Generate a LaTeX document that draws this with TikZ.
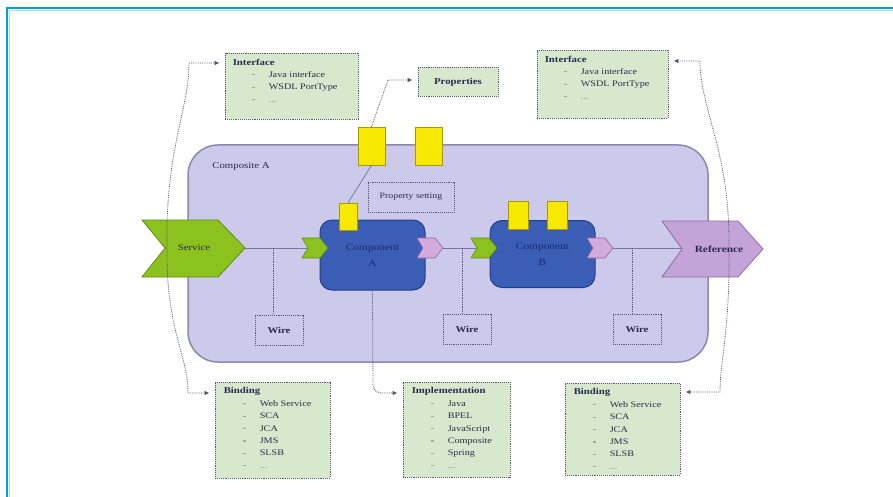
\documentclass[tikz,border=0pt]{standalone}
\usepackage{fontspec}
\setmainfont{Liberation Serif}[FakeStretch=1.2]
\usetikzlibrary{arrows.meta}
\definecolor{framecol}{HTML}{00A0C8}
\definecolor{compfill}{HTML}{CCC9EA}
\definecolor{compdraw}{HTML}{8C89B0}
\definecolor{svcgreen}{HTML}{8CC21E}
\definecolor{svcdraw}{HTML}{5E8A14}
\definecolor{refpurple}{HTML}{C4A3D8}
\definecolor{refdraw}{HTML}{8E6AA8}
\definecolor{pinkchev}{HTML}{D4AADC}
\definecolor{compblue}{HTML}{3A5DB6}
\definecolor{compbluedraw}{HTML}{24408A}
\definecolor{comptext}{HTML}{1C2B6A}
\definecolor{propyellow}{HTML}{F7E800}
\definecolor{propdraw}{HTML}{A89A00}
\definecolor{boxgreen}{HTML}{D7E9CC}
\definecolor{ink}{HTML}{2A2A50}
\definecolor{lineblue}{HTML}{7A78A8}
\newcommand\itm[1]{\hspace*{19pt}\textcolor{gray!70}{\rule[2pt]{3pt}{1.2pt}}\hspace{14pt}#1}
\tikzset{
  composite/.style={draw=compdraw, line width=1.5pt, fill=compfill, rounded corners=30pt, minimum width=520pt, minimum height=217pt},
  compbox/.style={draw=compbluedraw, line width=1pt, fill=compblue, rounded corners=12pt, text=comptext, align=center, font=\fontsize{9.5}{16}\selectfont},
  yprop/.style={draw=propdraw, line width=0.6pt, fill=propyellow, inner sep=0pt},
  infobox/.style={draw=ink!80, densely dotted, line width=0.9pt, fill=boxgreen, inner sep=0pt},
  listtext/.style={anchor=north west, align=left, inner sep=2pt, font=\fontsize{8.5}{12.4}\selectfont},
  wirebox/.style={draw=ink!80, densely dotted, line width=0.9pt, minimum width=48pt, minimum height=30pt, font=\fontsize{9}{11}\selectfont\bfseries},
  wireline/.style={draw=lineblue, line width=0.8pt},
  wiredrop/.style={draw=ink!80, densely dotted, line width=0.8pt},
  conn/.style={draw=ink!80, densely dotted, line width=0.8pt, -{Latex[length=5pt,width=4.5pt]}, shorten >=5pt},
  chev/.pic={\draw[pic actions] (-13,-10) -- (5,-10) -- (13,0) -- (5,10) -- (-13,10) -- (-7,0) -- cycle;}
}
\begin{document}
\begin{tikzpicture}[x=1pt,y=-1pt, font=\fontsize{9}{11}\selectfont, text=ink]
\useasboundingbox (0,0) rectangle (893,497);
\fill[white] (0,0) rectangle (893,497);
% frame
\draw[framecol!35, line width=1pt] (9.5,497) -- (9.5,10.5) -- (893,10.5);
\draw[framecol, line width=2.5pt] (7,497) -- (7,8) -- (893,8);

% composite
\node[composite] (comp) at (448,253.5) {};
\node (compLbl) at (241,166) {Composite A};

% coordinates on the wire line
\coordinate (svcTip) at (245,248);
\coordinate (aInN) at (308,248);
\coordinate (aOutT) at (443,248);
\coordinate (bInN) at (476,248);
\coordinate (bOutT) at (613,248);
\coordinate (refN) at (682,248);
\coordinate (d1) at (273,248);
\coordinate (d2) at (462,248);
\coordinate (d3) at (632,248);

% wires
\draw[wireline] (svcTip) -- (aInN);
\draw[wireline] (aOutT) -- (bInN);
\draw[wireline] (bOutT) -- (refN);

% wire boxes
\node[wirebox] (w1) at (279,330) {Wire};
\node[wirebox] (w2) at (467,329) {Wire};
\node[wirebox] (w3) at (637,329) {Wire};
\draw[wiredrop] (d1) -- (w1.north -| d1);
\draw[wiredrop] (d2) -- (w2.north -| d2);
\draw[wiredrop] (d3) -- (w3.north -| d3);

% property setting
\node[draw=ink!80, densely dotted, line width=0.9pt, minimum width=86pt, minimum height=30pt, font=\fontsize{8.2}{10}\selectfont] (propset) at (411,197) {Property setting};

% components
\node[compbox, minimum width=105pt, minimum height=70pt] (compA) at (372.5,255) {Component\\A};
\node[compbox, minimum width=105pt, minimum height=67pt] (compB) at (542.5,254) {Component\\B};

% small chevrons
\pic[fill=svcgreen, draw=svcdraw, line width=0.6pt] at (315,248) {chev};
\pic[fill=pinkchev, draw=refdraw, line width=0.6pt] at (430,248) {chev};
\pic[fill=svcgreen, draw=svcdraw, line width=0.6pt] at (484,248) {chev};
\pic[fill=pinkchev, draw=refdraw, line width=0.6pt] at (600,248) {chev};

% yellow properties
\node[yprop, minimum width=27pt, minimum height=38pt] (yp1) at (371.5,146) {};
\node[yprop, minimum width=27pt, minimum height=38pt] (yp2) at (428.5,146) {};
\node[yprop, minimum width=18pt, minimum height=27pt] (ypA) at (348,216.5) {};
\node[yprop, minimum width=20pt, minimum height=28pt] (ypB1) at (518.5,215.5) {};
\node[yprop, minimum width=20pt, minimum height=28pt] (ypB2) at (557,215.5) {};
\draw[lineblue, line width=0.8pt] (ypA.north) -- (yp1.south);

% service and reference chevrons
\draw[fill=svcgreen, draw=svcdraw, line width=0.8pt] (142,220) -- (218,220) -- (245,248) -- (218,277) -- (142,277) -- (165,248) -- cycle;
\node (service) at (194,248) {Service};
\draw[fill=refpurple, draw=refdraw, line width=0.8pt] (662,221) -- (738,221) -- (763,249) -- (738,277) -- (662,277) -- (682,249) -- cycle;
\node[font=\fontsize{9.5}{11}\selectfont\bfseries] (reference) at (719,249) {Reference};

% info boxes
\node[infobox, minimum width=133pt, minimum height=66pt] (ifL) at (291.5,86) {};
\node[listtext, xshift=6pt, yshift=-4pt] (ifLt) at (ifL.north west) {\textbf{\fontsize{9}{12}\selectfont Interface}\\\itm{Java interface}\\\itm{WSDL PortType}\\\itm{\textcolor{gray}{...}}};
\node[infobox, minimum width=80pt, minimum height=29pt, font=\fontsize{9}{11}\selectfont\bfseries] (props) at (458,82) {Properties};
\node[infobox, minimum width=131pt, minimum height=68pt] (ifR) at (602.5,84) {};
\node[listtext, xshift=6pt, yshift=-4pt] (ifRt) at (ifR.north west) {\textbf{\fontsize{9}{12}\selectfont Interface}\\\itm{Java interface}\\\itm{WSDL PortType}\\\itm{\textcolor{gray}{...}}};
\node[infobox, minimum width=115pt, minimum height=96pt] (bindL) at (272.5,430) {};
\node[listtext, xshift=7pt, yshift=-4pt] (bindLt) at (bindL.north west) {\textbf{\fontsize{9}{12}\selectfont Binding}\\\itm{Web Service}\\\itm{SCA}\\\itm{JCA}\\\itm{JMS}\\\itm{SLSB}\\\itm{\textcolor{gray}{...}}};
\node[infobox, minimum width=107pt, minimum height=95pt] (impl) at (456.5,429.5) {};
\node[listtext, xshift=7pt, yshift=-4pt] (implt) at (impl.north west) {\textbf{\fontsize{9}{12}\selectfont Implementation}\\\itm{Java}\\\itm{BPEL}\\\itm{JavaScript}\\\itm{Composite}\\\itm{Spring}\\\itm{\textcolor{gray}{...}}};
\node[infobox, minimum width=115pt, minimum height=92pt] (bindR) at (622.5,429) {};
\node[listtext, xshift=7pt, yshift=-4pt] (bindRt) at (bindR.north west) {\textbf{\fontsize{9}{12}\selectfont Binding}\\\itm{Web Service}\\\itm{SCA}\\\itm{JCA}\\\itm{JMS}\\\itm{SLSB}\\\itm{\textcolor{gray}{...}}};

% connectors
\coordinate (svcPt) at (167,248);
\coordinate (refPt) at (729,248);
\coordinate (kIfL) at (189,63);
\coordinate (kBindL) at (188,393);
\coordinate (kIfR) at (700,61);
\coordinate (kBindR) at (720,392);
\coordinate (kProp) at (388,80);
\coordinate (kImpl) at (373,393);
\draw[conn] (svcPt) .. controls (165,150) and (189,110) .. (kIfL) -- (ifL.west |- kIfL);
\draw[conn] (svcPt) .. controls (166,330) and (188,355) .. (kBindL) -- (bindL.west |- kBindL);
\draw[conn] (refPt) .. controls (730,150) and (700,110) .. (kIfR) -- (ifR.east |- kIfR);
\draw[conn] (refPt) .. controls (730,330) and (720,360) .. (kBindR) -- (bindR.east |- kBindR);
\draw[conn] (yp1.north) -- (kProp) -- (props.west |- kProp);
\draw[conn, rounded corners=8pt] (compA.south) -- (kImpl) -- (impl.west |- kImpl);
\end{tikzpicture}
\end{document}
